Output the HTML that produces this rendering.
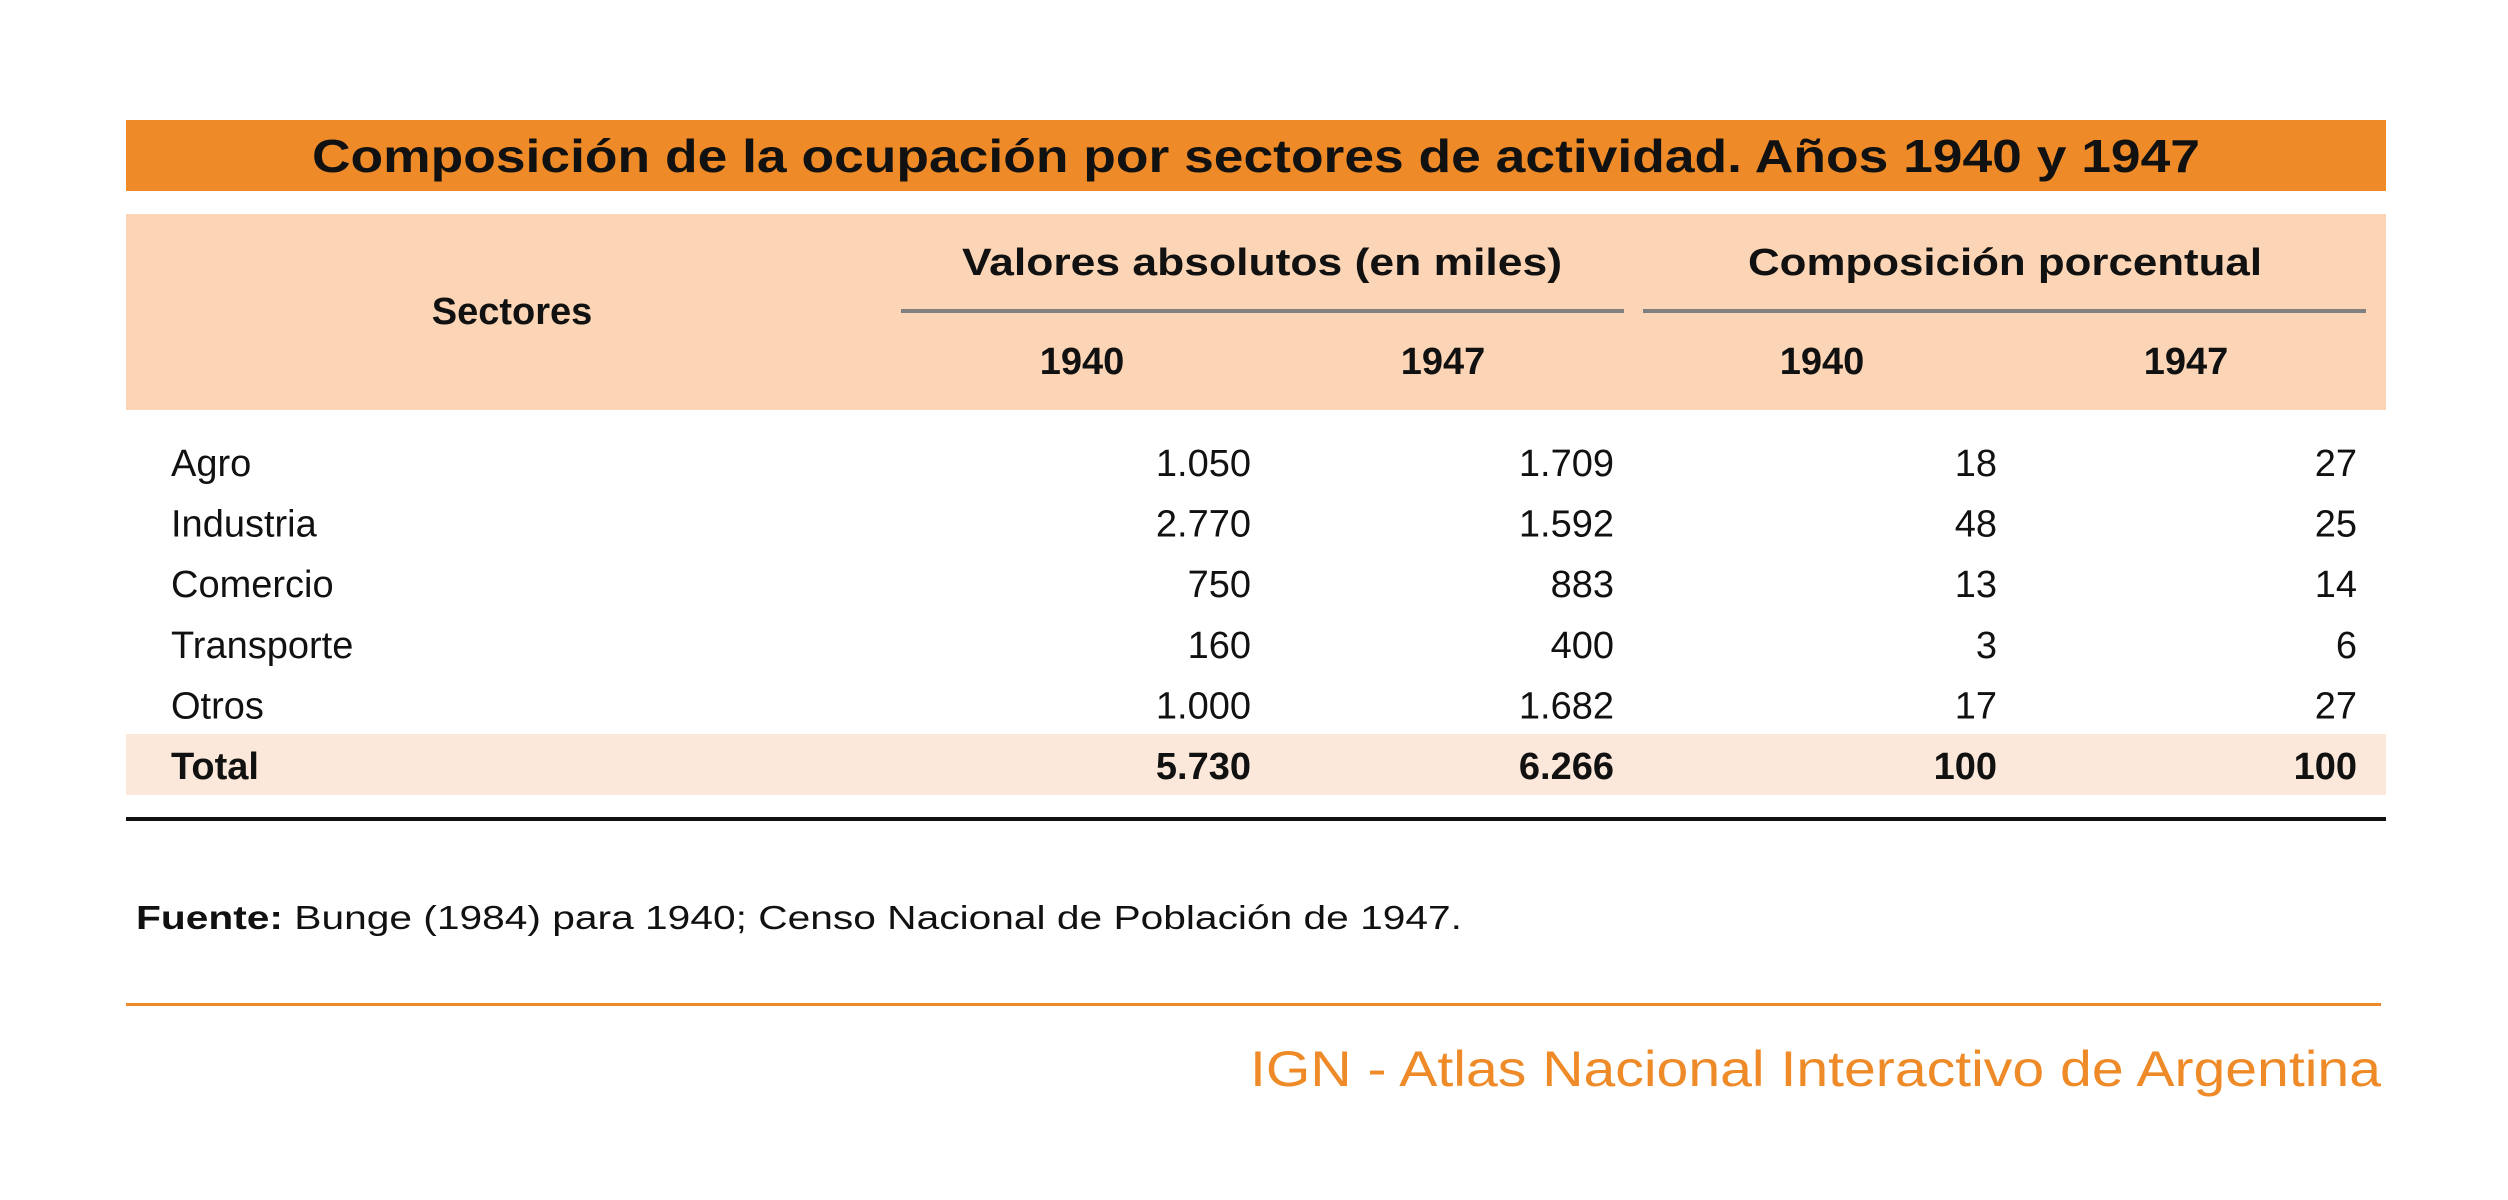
<!DOCTYPE html>
<html><head><meta charset="utf-8"><style>html,body{margin:0;padding:0;background:#fff}svg{display:block}text{font-family:"Liberation Sans",sans-serif}</style></head>
<body>
<svg id="tbl" width="2508" height="1200" viewBox="0 0 2508 1200" xmlns="http://www.w3.org/2000/svg">
<rect x="126" y="120" width="2260" height="71" fill="#ee8a27"/>
<text x="1256" y="172" text-anchor="middle" font-size="46" font-weight="bold" fill="#111" textLength="1888" lengthAdjust="spacingAndGlyphs">Composición de la ocupación por sectores de actividad. Años 1940 y 1947</text>
<rect x="126" y="214" width="2260" height="196" fill="#fbd5b5"/>
<text x="512" y="324" text-anchor="middle" font-size="38" font-weight="bold" fill="#111">Sectores</text>
<text x="1262" y="275" text-anchor="middle" font-size="38" font-weight="bold" fill="#111" textLength="600" lengthAdjust="spacingAndGlyphs">Valores absolutos (en miles)</text>
<text x="2005" y="275" text-anchor="middle" font-size="38" font-weight="bold" fill="#111" textLength="514" lengthAdjust="spacingAndGlyphs">Composición porcentual</text>
<rect x="901" y="309" width="723" height="4" fill="#808080"/>
<rect x="1643" y="309" width="723" height="4" fill="#808080"/>
<g id="years"></g>
<rect x="126" y="734" width="2260" height="61" fill="#fce8da"/>
<g id="rows"></g>
<rect x="126" y="817" width="2260" height="4" fill="#111"/>
<text x="136" y="929" font-size="33" fill="#111" textLength="1326" lengthAdjust="spacingAndGlyphs"><tspan font-weight="bold">Fuente:</tspan> Bunge (1984) para 1940; Censo Nacional de Población de 1947.</text>
<rect x="126" y="1003" width="2255" height="3" fill="#ee8a27"/>
<text x="2381" y="1086" text-anchor="end" font-size="50" fill="#ee8a27" textLength="1131" lengthAdjust="spacingAndGlyphs">IGN - Atlas Nacional Interactivo de Argentina</text>
</svg>
<script>
const sectors = ["Agro","Industria","Comercio","Transporte","Otros","Total"];
const abs1940 = ["1.050","2.770","750","160","1.000","5.730"];
const abs1947 = ["1.709","1.592","883","400","1.682","6.266"];
const pct1940 = ["18","48","13","3","17","100"];
const pct1947 = ["27","25","14","6","27","100"];
const yearLabels = ["1940","1947","1940","1947"];
const NS = "http://www.w3.org/2000/svg";
const yearCenters = [1082,1443,1822,2186];
const colRight = [1251,1614,1997,2357];
const yg = document.getElementById('years');
yearLabels.forEach((y,i)=>{
  const t=document.createElementNS(NS,'text');
  t.setAttribute('x',yearCenters[i]);t.setAttribute('y',374);
  t.setAttribute('text-anchor','middle');t.setAttribute('font-size','38');t.setAttribute('font-weight','bold');t.setAttribute('fill','#111');
  t.textContent=y;
  
  
  yg.appendChild(t);
});
const rg = document.getElementById('rows');
const cols=[abs1940,abs1947,pct1940,pct1947];
sectors.forEach((s,i)=>{
  const base = 476 + i*60.6;
  const bold = s==="Total";
  const g=document.createElementNS(NS,'g');
  
  
  const l=document.createElementNS(NS,'text');
  l.setAttribute('x',171);l.setAttribute('y',base);l.setAttribute('font-size','38');l.setAttribute('fill','#111');
  if(bold) l.setAttribute('font-weight','bold');
  l.textContent=s;
  
  
  g.appendChild(l);
  cols.forEach((c,j)=>{
    const t=document.createElementNS(NS,'text');
    t.setAttribute('x',colRight[j]);t.setAttribute('y',base);t.setAttribute('text-anchor','end');
    t.setAttribute('font-size','38');t.setAttribute('fill','#111');
    if(bold) t.setAttribute('font-weight','bold');
    t.textContent=c[i];
    
    
    g.appendChild(t);
  });
  rg.appendChild(g);
});
</script>
</body></html>
